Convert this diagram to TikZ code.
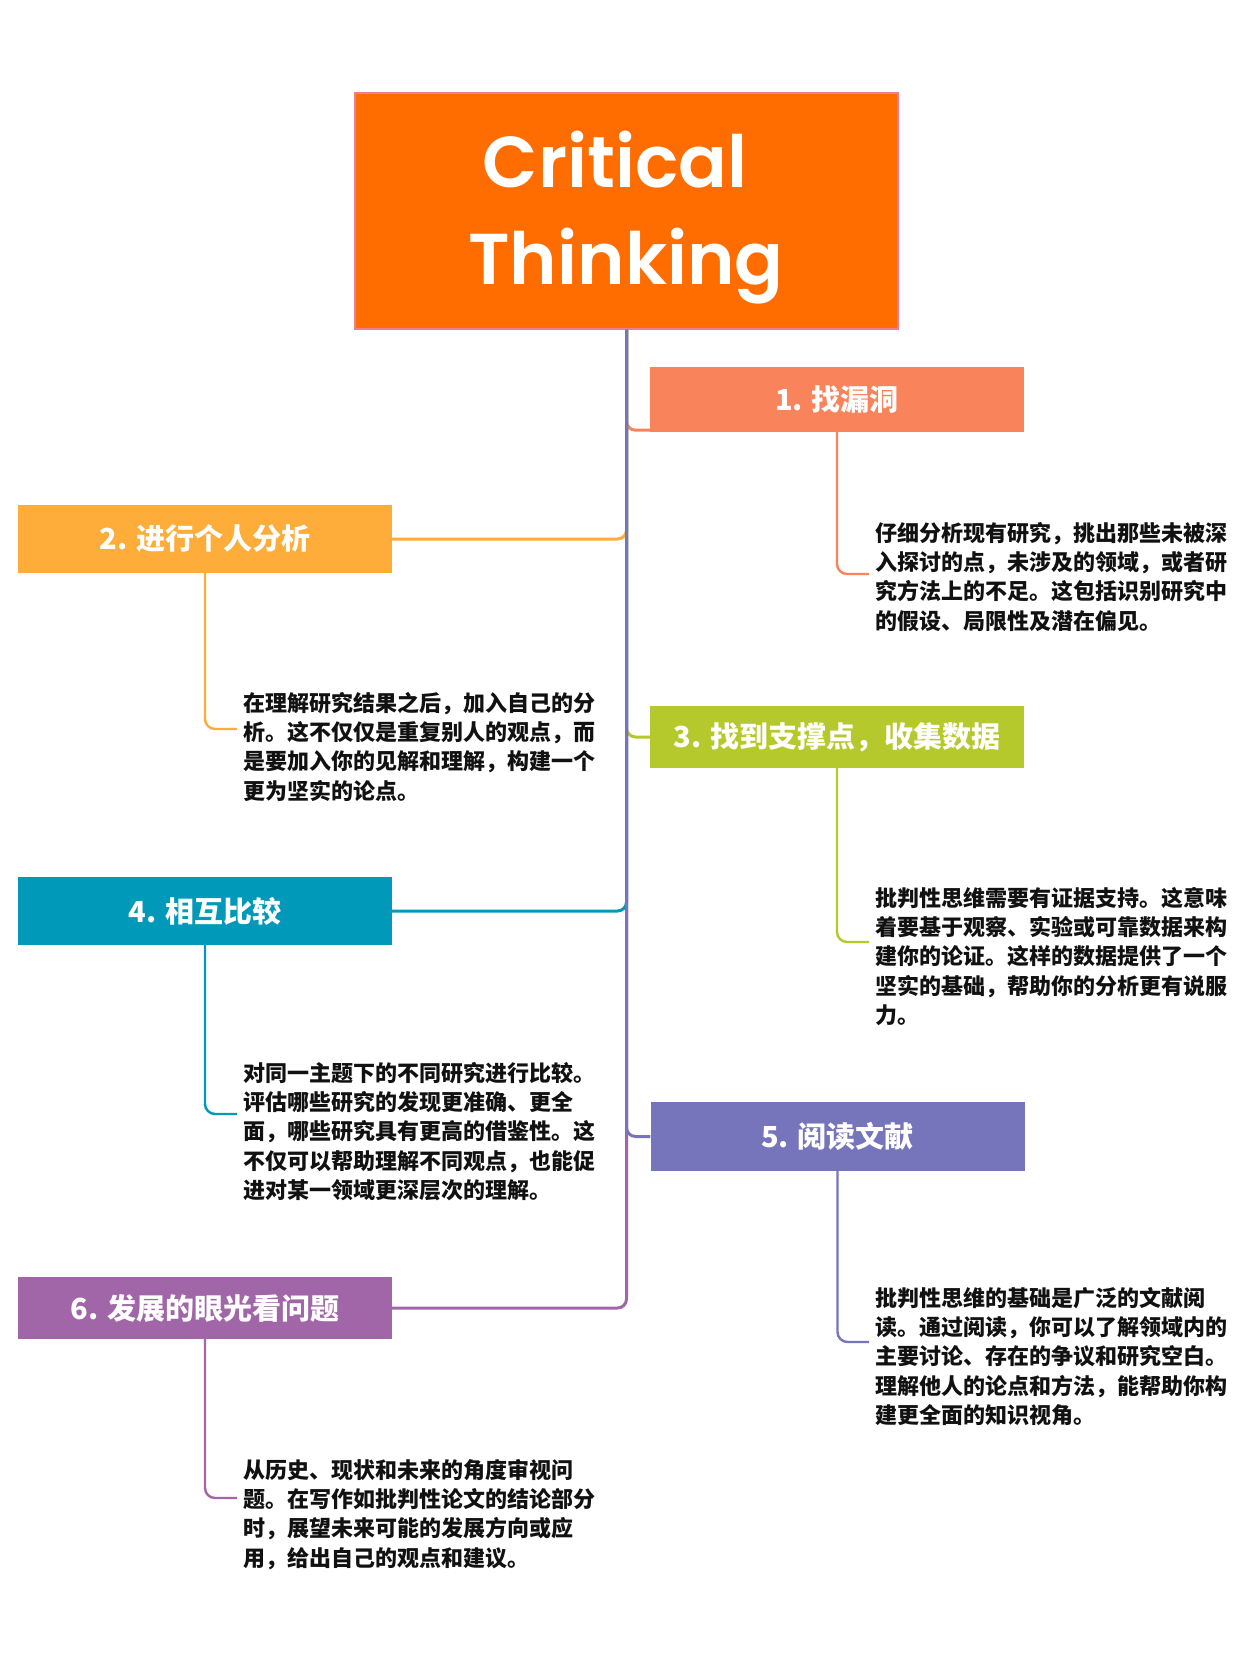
\documentclass[tikz,border=0pt]{standalone}
\usepackage{fontspec}
\newfontfamily\cjk{Noto Sans CJK SC}
\newfontfamily\poppins{Poppins SemiBold}
\definecolor{cmain}{HTML}{FF6D00}
\definecolor{cborder}{HTML}{F07C96}
\definecolor{cA}{HTML}{F9835A}
\definecolor{cB}{HTML}{FEAC3A}
\definecolor{cC}{HTML}{B6C92C}
\definecolor{cD}{HTML}{0199BA}
\definecolor{cE}{HTML}{7674BA}
\definecolor{cF}{HTML}{A066A8}
\definecolor{ctext}{HTML}{111111}
\newcommand{\desctext}[1]{\parbox[t]{400pt}{\raggedright\fontsize{22pt}{29.2pt}\selectfont #1}}
\begin{document}
\begin{tikzpicture}[x=1pt,y=-1pt,
  topicbox/.style={rectangle, inner sep=0pt, text=white, minimum width=374pt, minimum height=65pt,
    font=\cjk\bfseries\fontsize{29pt}{34pt}\selectfont},
  branchline/.style={line width=3pt, rounded corners=9pt},
  twigline/.style={line width=2.4pt, rounded corners=10pt},
  desc/.style={anchor=base west, inner sep=0pt, text=ctext, font=\cjk\bfseries}
]
\fill[white] (0,0) rectangle (1242,1660);
\useasboundingbox (0,0) rectangle (1242,1660);

% central topic
\node[rectangle, fill=cmain, draw=cborder, line width=1.2pt, minimum width=543pt, minimum height=236pt, inner sep=0pt] (root) at (626.5,211) {};
\node[anchor=base, inner sep=0pt, text=white, font=\poppins\fontsize{72pt}{97pt}\selectfont] (title) at (626,187)
  {\parbox[t]{520pt}{\centering Critical\rule{22pt}{0pt}\\Thinking}};

% main topics
\node[topicbox, fill=cA, minimum height=65pt] (b1) at (837,399.5) {1. 找漏洞};
\node[topicbox, fill=cB, minimum height=68pt] (b2) at (205,539) {2. 进行个人分析};
\node[topicbox, fill=cC, minimum height=62pt] (b3) at (837,737) {3. 找到支撑点，收集数据};
\node[topicbox, fill=cD, minimum height=68pt] (b4) at (205,911) {4. 相互比较};
\node[topicbox, fill=cE, minimum height=69pt] (b5) at (837.5,1136.5) {5. 阅读文献};
\node[topicbox, fill=cF, minimum height=62pt] (b6) at (205,1308) {6. 发展的眼光看问题};

% branch connectors (5 drawn last so the trunk shows its colour)
\draw[branchline, cA] (root.south) |- ([yshift=2pt]b1.south west);
\draw[branchline, cB] (root.south) |- (b2.east);
\draw[branchline, cC] (root.south) |- (b3.west);
\draw[branchline, cD] (root.south) |- (b4.east);
\draw[branchline, cF] (root.south) |- (b6.east);
\draw[branchline, cE] (root.south) |- (b5.west);

% descriptions
\node[desc] (d1) at (875,541.5) {\desctext{仔细分析现有研究，挑出那些未被深\\入探讨的点，未涉及的领域，或者研\\究方法上的不足。这包括识别研究中\\的假设、局限性及潜在偏见。}};
\node[desc] (d2) at (243,711.5) {\desctext{在理解研究结果之后，加入自己的分\\析。这不仅仅是重复别人的观点，而\\是要加入你的见解和理解，构建一个\\更为坚实的论点。}};
\node[desc] (d3) at (875,906.5) {\desctext{批判性思维需要有证据支持。这意味\\着要基于观察、实验或可靠数据来构\\建你的论证。这样的数据提供了一个\\坚实的基础，帮助你的分析更有说服\\力。}};
\node[desc] (d4) at (243,1081.5) {\desctext{对同一主题下的不同研究进行比较。\\评估哪些研究的发现更准确、更全\\面，哪些研究具有更高的借鉴性。这\\不仅可以帮助理解不同观点，也能促\\进对某一领域更深层次的理解。}};
\node[desc] (d5) at (875,1306.5) {\desctext{批判性思维的基础是广泛的文献阅\\读。通过阅读，你可以了解领域内的\\主要讨论、存在的争议和研究空白。\\理解他人的论点和方法，能帮助你构\\建更全面的知识视角。}};
\node[desc] (d6) at (243,1478.5) {\desctext{从历史、现状和未来的角度审视问\\题。在写作如批判性论文的结论部分\\时，展望未来可能的发展方向或应\\用，给出自己的观点和建议。}};

% connector ends
\coordinate (e1) at (869,574);
\coordinate (e2) at (237,729);
\coordinate (e3) at (869,942);
\coordinate (e4) at (237,1114);
\coordinate (e5) at (869,1342);
\coordinate (e6) at (237,1498);

\draw[twigline, cA] (b1.south) |- (e1);
\draw[twigline, cB] (b2.south) |- (e2);
\draw[twigline, cC] (b3.south) |- (e3);
\draw[twigline, cD] (b4.south) |- (e4);
\draw[twigline, cE] (b5.south) |- (e5);
\draw[twigline, cF] (b6.south) |- (e6);
\end{tikzpicture}
\end{document}
